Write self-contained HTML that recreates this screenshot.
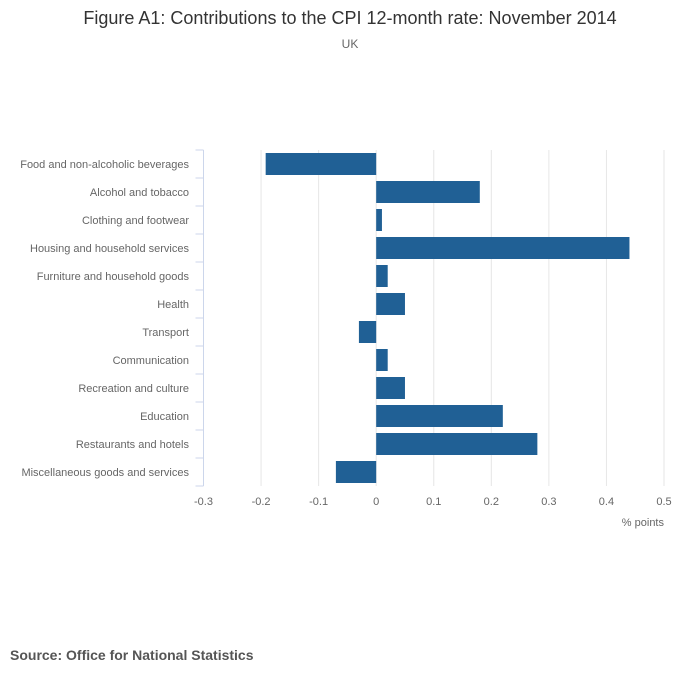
<!DOCTYPE html>
<html><head><meta charset="utf-8"><style>
body{margin:0;background:#fff;font-family:"Liberation Sans",sans-serif;}
svg text{font-family:"Liberation Sans",sans-serif;}
</style></head><body>
<svg width="700" height="682">
<text x="350" y="24" text-anchor="middle" font-size="18" fill="#333">Figure A1: Contributions to the CPI 12-month rate: November 2014</text>
<text x="350" y="48" text-anchor="middle" font-size="12" fill="#666">UK</text>
<g id="grid"></g><g id="bars"></g><g id="axes"></g>
<text x="664" y="526" text-anchor="end" font-size="11" fill="#666">% points</text>
<text x="10" y="660" font-size="14" font-weight="bold" fill="#555">Source: Office for National Statistics</text>
</svg>
<script>
const categories=["Food and non-alcoholic beverages","Alcohol and tobacco","Clothing and footwear","Housing and household services","Furniture and household goods","Health","Transport","Communication","Recreation and culture","Education","Restaurants and hotels","Miscellaneous goods and services"];
const values=[-0.192,0.18,0.01,0.44,0.02,0.05,-0.03,0.02,0.05,0.22,0.28,-0.07];
const xTicks=[-0.3,-0.2,-0.1,0,0.1,0.2,0.3,0.4,0.5];
const xMin=-0.3,xMax=0.5,plotLeft=203.5,plotRight=664,plotTop=150,band=28;
const NS="http://www.w3.org/2000/svg";
function xs(v){return plotLeft+(v-xMin)/(xMax-xMin)*(plotRight-plotLeft);}
function ys(i){return plotTop+i*band;}
function mk(t,a,p){const e=document.createElementNS(NS,t);for(const k in a)e.setAttribute(k,a[k]);p.appendChild(e);return e;}
const grid=document.getElementById('grid'),bars=document.getElementById('bars'),axes=document.getElementById('axes');
xTicks.forEach(t=>{
 if(t!==xMin){const l=mk('line',{x1:xs(t),x2:xs(t),y1:plotTop,y2:ys(categories.length),stroke:'#e6e6e6'},grid);
 
 }
 const tx=mk('text',{x:xs(t),y:505,'text-anchor':'middle','font-size':11,fill:'#666'},axes);
 tx.textContent=t===0?'0':String(t);
 
 
});
const ax=mk('line',{x1:plotLeft,x2:plotLeft,y1:plotTop,y2:ys(categories.length),stroke:'#ccd6eb'},axes);


for(let i=0;i<=categories.length;i++){
 const tk=mk('line',{x1:plotLeft-8,x2:plotLeft,y1:ys(i),y2:ys(i),stroke:'#ccd6eb'},axes);
 
 
}
categories.forEach((c,i)=>{
 const v=values[i];
 const r=mk('rect',{x:Math.min(xs(0),xs(v)),y:ys(i)+3,width:Math.abs(xs(v)-xs(0)),height:22,fill:'#206095'},bars);
 
 
 const t=mk('text',{x:189,y:ys(i)+18,'text-anchor':'end','font-size':11,fill:'#666'},axes);
 t.textContent=c;
 
 
});
</script>
</body></html>
